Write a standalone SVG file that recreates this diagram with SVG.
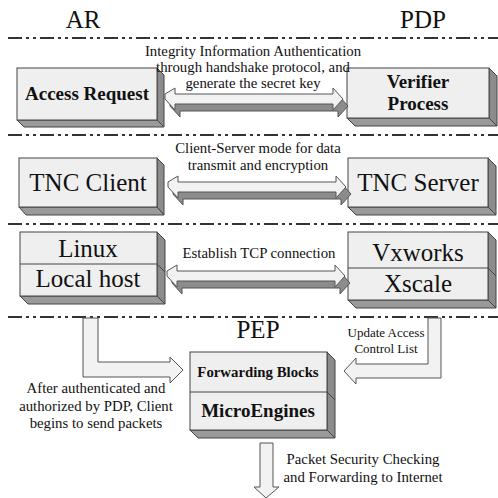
<svg xmlns="http://www.w3.org/2000/svg" width="498" height="498" viewBox="0 0 498 498">
<defs>
<style>
.sep{stroke:#333;stroke-width:2;stroke-dasharray:14 4 3 4 3 4;fill:none}
.front{fill:#efefef;stroke:#444;stroke-width:1}
.side{fill:#8c8c8c;stroke:#444;stroke-width:1}
.bot{fill:#9a9a9a;stroke:#444;stroke-width:1}
.div{stroke:#444;stroke-width:1;fill:none}
.t{font-family:"Liberation Serif","Times New Roman",serif;fill:#111;text-anchor:middle}
.big{font-size:25px}
.lbl{font-size:14.8px}
.b{font-weight:bold}
.arr{fill:#f2f2f2;stroke:#555;stroke-width:1}
.arrd{fill:#8c8c8c;stroke:#555;stroke-width:1}
</style>
<polygon id="dbl" points="0,-5 10,-11 10,-5 168,-5 168,-11 178,0 168,11 168,5 10,5 10,11 0,0"/>
</defs>
<rect width="498" height="498" fill="#fff"/>

<g id="separators">
<line class="sep" x1="8" y1="38" x2="498" y2="38"/>
<line class="sep" x1="8" y1="135" x2="498" y2="135"/>
<line class="sep" x1="8" y1="224" x2="498" y2="224"/>
<line class="sep" x1="8" y1="317" x2="498" y2="317"/>
</g>

<g id="titles">
<text class="t big" x="83" y="28">AR</text>
<text class="t big" x="423" y="28">PDP</text>
<text class="t big" x="258" y="338">PEP</text>
</g>

<g id="access-request">
<polygon class="side" points="157,68 164,75 164,127 157,120"/>
<polygon class="bot" points="17,120 157,120 164,127 24,127"/>
<rect class="front" x="17" y="68" width="140" height="52"/>
<text class="t b" x="87" y="100" font-size="19">Access Request</text>
</g>

<g id="verifier-process">
<polygon class="side" points="489,68 497,76 497,126 489,118"/>
<polygon class="bot" points="347,118 489,118 497,126 355,126"/>
<rect class="front" x="347" y="68" width="142" height="50"/>
<text class="t b" x="418" y="88" font-size="19">Verifier</text>
<text class="t b" x="418" y="110" font-size="19">Process</text>
</g>

<g id="tnc-client">
<polygon class="side" points="157,158 164,165 164,215 157,207"/>
<polygon class="bot" points="19,207 157,207 164,215 26,215"/>
<rect class="front" x="19" y="158" width="138" height="49"/>
<text class="t big" x="88" y="191">TNC Client</text>
</g>

<g id="tnc-server">
<polygon class="side" points="488,158 496,166 496,215 488,207"/>
<polygon class="bot" points="348,207 488,207 496,215 356,215"/>
<rect class="front" x="348" y="158" width="140" height="49"/>
<text class="t big" x="418" y="191">TNC Server</text>
</g>

<g id="linux-localhost">
<polygon class="side" points="157,232 165,240 165,304 157,296"/>
<line class="div" x1="157" y1="264" x2="165" y2="272"/>
<polygon class="bot" points="20,296 157,296 165,304 28,304"/>
<rect class="front" x="20" y="232" width="137" height="64"/>
<line class="div" x1="20" y1="264" x2="157" y2="264"/>
<text class="t big" x="88" y="257">Linux</text>
<text class="t big" x="88" y="287">Local host</text>
</g>

<g id="vxworks-xscale">
<polygon class="side" points="488,232 496,240 496,308 488,300"/>
<line class="div" x1="488" y1="268" x2="496" y2="276"/>
<polygon class="bot" points="348,300 488,300 496,308 356,308"/>
<rect class="front" x="348" y="232" width="140" height="68"/>
<line class="div" x1="348" y1="268" x2="488" y2="268"/>
<text class="t big" x="418" y="261">Vxworks</text>
<text class="t big" x="418" y="292">Xscale</text>
</g>

<g id="pep">
<polygon class="side" points="327,352 335,360 335,438 327,430"/>
<line class="div" x1="327" y1="392" x2="335" y2="400"/>
<polygon class="bot" points="190,430 327,430 335,438 198,438"/>
<rect class="front" x="190" y="352" width="137" height="78"/>
<line class="div" x1="190" y1="392" x2="327" y2="392"/>
<text class="t b" x="258" y="377" font-size="14.8">Forwarding Blocks</text>
<text class="t b" x="258" y="417" font-size="19">MicroEngines</text>
</g>

<g id="connectors">
<use href="#dbl" class="arrd" transform="translate(170,106)"/>
<use href="#dbl" class="arr" transform="translate(165,99)"/>
<use href="#dbl" class="arrd" transform="translate(173,194)"/>
<use href="#dbl" class="arr" transform="translate(168,187)"/>
<use href="#dbl" class="arrd" transform="translate(172,283)"/>
<use href="#dbl" class="arr" transform="translate(167,276)"/>
<polygon class="arr" points="83,318 98,318 98,362 170,362 170,357 183,370 170,383 170,377 83,377"/>
<polygon class="arr" points="428,318 441,318 441,378 356,378 356,384 344,371 356,358 356,364 428,364"/>
<polygon class="arr" points="260,443 273,443 273,487 279,487 266,498 254,487 260,487"/>
</g>

<g id="labels">
<text class="t lbl" x="253" y="56">Integrity Information Authentication</text>
<text class="t lbl" x="253" y="72">through handshake protocol, and</text>
<text class="t lbl" x="253" y="88">generate the secret key</text>
<text class="t lbl" x="258" y="153">Client-Server mode for data</text>
<text class="t lbl" x="258" y="170">transmit and encryption</text>
<text class="t lbl" x="259" y="258">Establish TCP connection</text>
<text class="t" x="386" y="337" font-size="13">Update Access</text>
<text class="t" x="386" y="353" font-size="13">Control List</text>
<text class="t lbl" x="96" y="393">After authenticated and</text>
<text class="t lbl" x="96" y="411">authorized by PDP, Client</text>
<text class="t lbl" x="96" y="428">begins to send packets</text>
<text class="t lbl" x="363" y="464">Packet Security Checking</text>
<text class="t lbl" x="363" y="482">and Forwarding to Internet</text>
</g>
</svg>
